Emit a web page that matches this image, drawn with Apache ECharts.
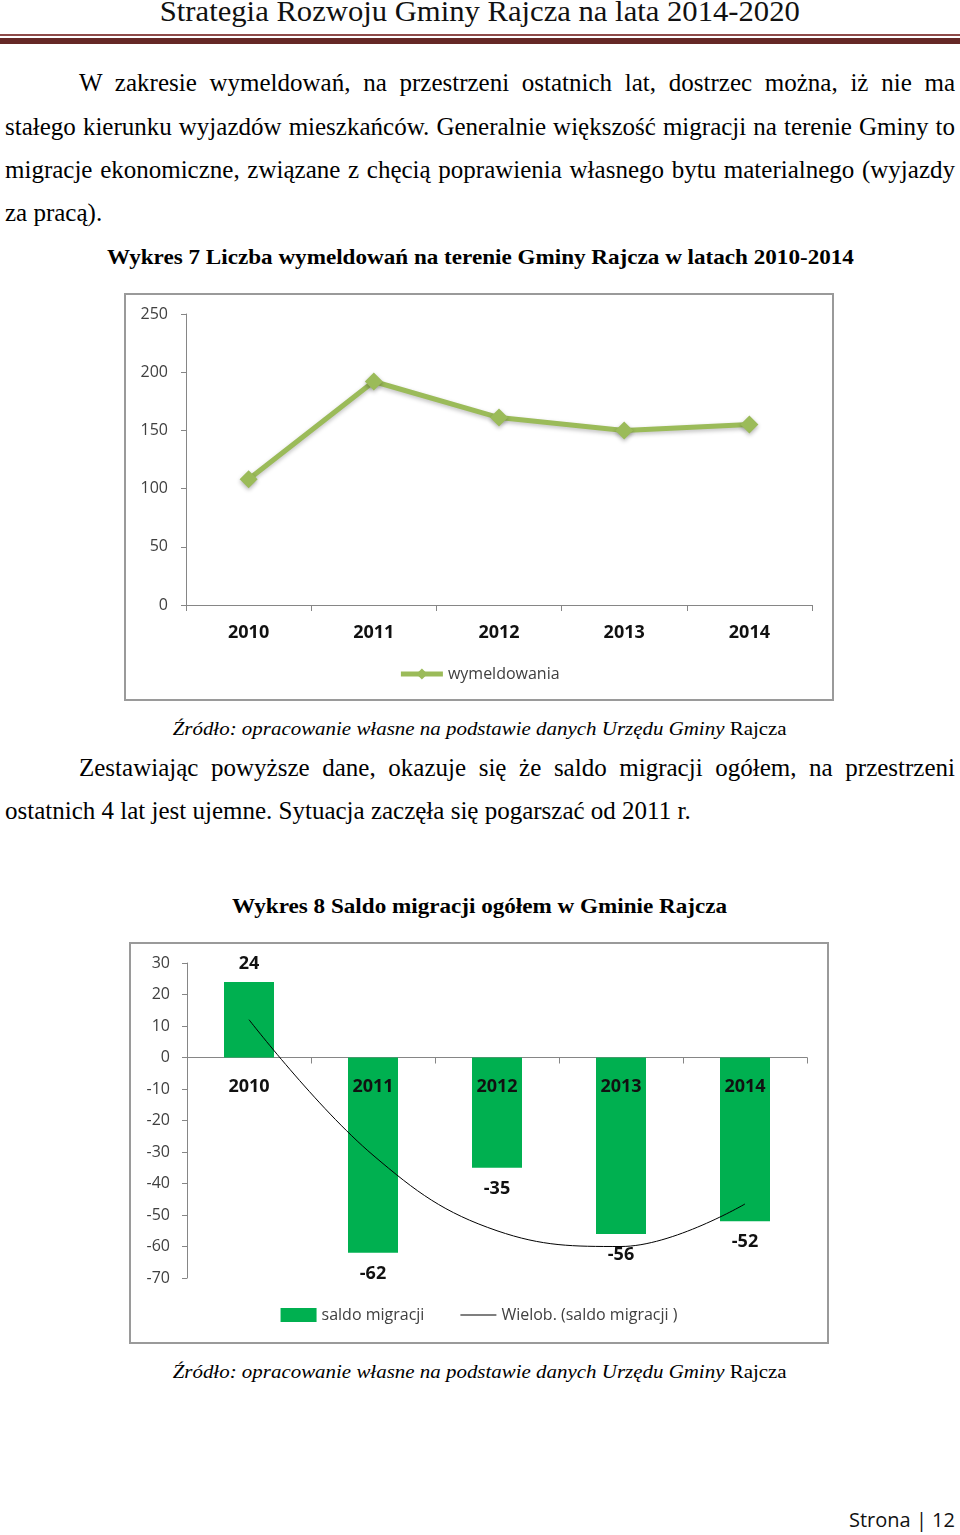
<!DOCTYPE html>
<html>
<head>
<meta charset="utf-8">
<script src="https://cdn.jsdelivr.net/npm/echarts/dist/echarts.min.js"></script>
<style>
  html, body { margin:0; padding:0; background:#fff; }
  body { width:960px; height:1535px; position:relative; overflow:hidden; font-family:"Liberation Serif","Times New Roman",serif; color:#000; }
  .abs { position:absolute; white-space:nowrap; }
  .line { position:absolute; height:30px; line-height:30px; font-size:25px; white-space:nowrap; }
  .line span { display:inline-block; transform-origin:left center; }
  .fit { position:absolute; white-space:nowrap; text-align:center; }
  .fit span { display:inline-block; transform-origin:center center; }
  .box { position:absolute; border:2px solid #9a9a9a; box-sizing:border-box; }
</style>
</head>
<body>
<!-- header -->
<div class="fit" data-w="640" style="left:0;width:960px;top:-7px;height:36px;line-height:36px;font-size:29px;color:#111;"><span>Strategia Rozwoju Gminy Rajcza na lata 2014-2020</span></div>
<div class="abs" style="left:0;top:34px;width:960px;height:2px;background:#8e4a49;"></div>
<div class="abs" style="left:0;top:38px;width:960px;height:6px;background:#652826;"></div>

<!-- paragraph 1 -->
<div class="line" data-jw="876" style="left:79px;top:68px;"><span>W zakresie wymeldowań, na przestrzeni ostatnich lat, dostrzec można, iż nie ma</span></div>
<div class="line" data-jw="950" style="left:5px;top:112px;"><span>stałego kierunku wyjazdów mieszkańców. Generalnie większość migracji na terenie Gminy to</span></div>
<div class="line" data-jw="950" style="left:5px;top:155px;"><span>migracje ekonomiczne, związane z chęcią poprawienia własnego bytu materialnego (wyjazdy</span></div>
<div class="line" style="left:5px;top:198px;"><span>za pracą).</span></div>

<div class="fit" data-w="747" style="left:0;width:960px;top:242px;height:30px;line-height:30px;font-size:22px;font-weight:bold;"><span>Wykres 7 Liczba wymeldowań na terenie Gminy Rajcza w latach 2010-2014</span></div>

<div class="box" style="left:124px;top:293px;width:710px;height:408px;"></div>
<div id="c1" class="abs" style="left:124px;top:293px;width:710px;height:408px;"></div>

<div class="fit" data-w="614" style="left:0;width:960px;top:716px;height:26px;line-height:26px;font-size:19px;"><span><i>Źródło: opracowanie własne na podstawie danych Urzędu Gminy</i> Rajcza</span></div>

<!-- paragraph 2 -->
<div class="line" data-jw="876" style="left:79px;top:753px;"><span>Zestawiając powyższe dane, okazuje się że saldo migracji ogółem, na przestrzeni</span></div>
<div class="line" style="left:5px;top:796px;"><span>ostatnich 4 lat jest ujemne. Sytuacja zaczęła się pogarszać od 2011 r.</span></div>

<div class="fit" data-w="495" style="left:0;width:960px;top:891px;height:30px;line-height:30px;font-size:22px;font-weight:bold;"><span>Wykres 8 Saldo migracji ogółem w Gminie Rajcza</span></div>

<div class="box" style="left:129px;top:942px;width:700px;height:402px;"></div>
<div id="c2" class="abs" style="left:129px;top:942px;width:700px;height:402px;"></div>

<div class="fit" data-w="614" style="left:0;width:960px;top:1359px;height:26px;line-height:26px;font-size:19px;"><span><i>Źródło: opracowanie własne na podstawie danych Urzędu Gminy</i> Rajcza</span></div>

<div class="abs" style="left:849px;top:1506px;height:28px;line-height:28px;font-size:20px;font-family:'Open Sans',sans-serif;color:#111;">Strona | 12</div>

<script>
// ---- data ----
const years = ['2010', '2011', '2012', '2013', '2014'];
const wymeldowania = [108, 192, 161, 150, 155];
const saldoMigracji = [24, -62, -35, -56, -52];
const trendSaldo = [12, -31, -55, -60, -46.5];
const yTicks1 = { min: 0, max: 250, interval: 50 };
const yTicks2 = { min: -70, max: 30, interval: 10 };

// fit centered titles to measured widths
document.querySelectorAll('.fit').forEach(el => {
  const sp = el.querySelector('span');
  const w = sp.getBoundingClientRect().width;
  const target = parseFloat(el.dataset.w);
  if (w > 0) sp.style.transform = 'scaleX(' + (target / w) + ')';
});
// justify single lines to target widths
document.querySelectorAll('.line[data-jw]').forEach(el => {
  const sp = el.querySelector('span');
  const target = parseFloat(el.dataset.jw);
  const w = sp.getBoundingClientRect().width;
  const n = (sp.textContent.match(/ /g) || []).length;
  if (w < target && n > 0) sp.style.wordSpacing = ((target - w) / n) + 'px';
  else if (w > target) sp.style.transform = 'scaleX(' + (target / w) + ')';
});

const labelFont = "'Open Sans', 'Liberation Sans', sans-serif";
const axisGray = '#868686';

const c1 = echarts.init(document.getElementById('c1'));
c1.setOption({
  animation: false,
  grid: { left: 62, right: 22, top: 21, bottom: 96, containLabel: false, outerBoundsMode: 'none' },
  xAxis: {
    type: 'category', data: years, boundaryGap: true,
    axisLine: { lineStyle: { color: axisGray } },
    axisTick: { show: true, length: 6, lineStyle: { color: axisGray } },
    axisLabel: { color: '#111', fontFamily: labelFont, fontWeight: 'bold', fontSize: 18, margin: 19 }
  },
  yAxis: {
    type: 'value', min: yTicks1.min, max: yTicks1.max, interval: yTicks1.interval,
    splitLine: { show: false },
    axisLine: { show: true, lineStyle: { color: axisGray } },
    axisTick: { show: true, length: 5, lineStyle: { color: axisGray } },
    axisLabel: { color: '#404040', fontFamily: labelFont, fontSize: 16, margin: 18 }
  },
  legend: {
    bottom: 14, left: 'center', itemWidth: 42, itemHeight: 14, itemGap: 4,
    textStyle: { color: '#404040', fontFamily: labelFont, fontSize: 16 },
    data: [{ name: 'wymeldowania', lineStyle: { width: 5, color: '#9BBB59' }, itemStyle: { color: '#9BBB59' } }]
  },
  series: [{
    name: 'wymeldowania', type: 'line', data: wymeldowania,
    symbol: 'diamond', symbolSize: 18,
    lineStyle: { color: '#9BBB59', width: 5, shadowColor: 'rgba(0,0,0,0.25)', shadowBlur: 4, shadowOffsetY: 2 },
    itemStyle: { color: '#9BBB59', shadowColor: 'rgba(0,0,0,0.3)', shadowBlur: 4, shadowOffsetY: 2 }
  }]
});

// chart 2: plot height & zero position, for placing the category labels on the zero line
const c2H = 402, c2Top = 21, c2Bottom = 66;
const plotH = c2H - c2Top - c2Bottom;
const zeroFromBottom = plotH * (0 - yTicks2.min) / (yTicks2.max - yTicks2.min);

const c2 = echarts.init(document.getElementById('c2'));
c2.setOption({
  animation: false,
  grid: { left: 58, right: 22, top: c2Top, bottom: c2Bottom, containLabel: false, outerBoundsMode: 'none' },
  xAxis: [{
    type: 'category', data: years, boundaryGap: true,
    axisLine: { onZero: true, lineStyle: { color: axisGray } },
    axisTick: { show: true, length: 6, lineStyle: { color: axisGray } },
    axisLabel: { show: false }
  }, {
    type: 'category', data: years, boundaryGap: true, position: 'bottom',
    offset: -zeroFromBottom,
    axisLine: { show: false, onZero: false },
    axisTick: { show: false },
    axisLabel: { color: '#111', fontFamily: labelFont, fontWeight: 'bold', fontSize: 18, margin: 20 },
    z: 10
  }],
  yAxis: {
    type: 'value', min: yTicks2.min, max: yTicks2.max, interval: yTicks2.interval,
    splitLine: { show: false },
    axisLine: { show: true, lineStyle: { color: axisGray } },
    axisTick: { show: true, length: 5, lineStyle: { color: axisGray } },
    axisLabel: { color: '#404040', fontFamily: labelFont, fontSize: 16, margin: 17 }
  },
  legend: {
    bottom: 16, left: 'center', itemGap: 36,
    textStyle: { color: '#404040', fontFamily: labelFont, fontSize: 16 },
    data: [
      { name: 'saldo migracji', icon: 'rect', itemStyle: { color: '#00B050' } },
      { name: 'Wielob. (saldo migracji )', icon: 'path://M0,0 L36,0 L36,1 L0,1 Z', itemStyle: { color: '#000' } }
    ],
    itemWidth: 36, itemHeight: 14
  },
  series: [{
    name: 'saldo migracji', type: 'bar', barWidth: 50, xAxisIndex: 0,
    itemStyle: { color: '#00B050' },
    data: saldoMigracji.map(v => ({
      value: v,
      label: { show: true, position: v >= 0 ? 'top' : 'bottom', distance: v >= 0 ? 9 : 12 }
    })),
    label: { color: '#111', fontFamily: labelFont, fontWeight: 'bold', fontSize: 18 }
  }, {
    name: 'Wielob. (saldo migracji )', type: 'line', data: trendSaldo, xAxisIndex: 0,
    smooth: 0.4, symbol: 'none',
    lineStyle: { color: '#000', width: 1 }, itemStyle: { color: '#000' }, z: 4
  }]
});
</script>
</body>
</html>
